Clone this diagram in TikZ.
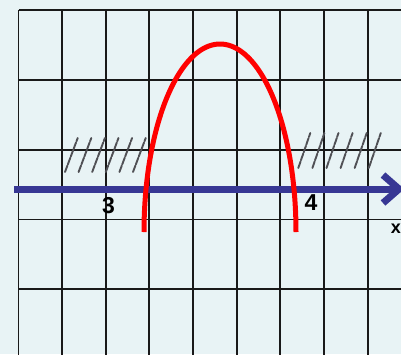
\documentclass[tikz,border=0pt]{standalone}
\usepackage{fontspec}
\setmainfont{Liberation Sans}
\definecolor{bgc}{HTML}{E8F3F5}
\definecolor{axisblue}{RGB}{55,55,148}
\definecolor{hatchgray}{RGB}{80,80,85}
\tikzset{
  gridline/.style={line width=1.7pt, black!90},
  hatchline/.style={line width=1.9pt, hatchgray, line cap=round, dash pattern=on 7pt off 1.2pt},
  axisline/.style={line width=7pt, axisblue},
  curveline/.style={line width=5pt, red},
  numlabel/.style={font=\fontsize{23}{23}\selectfont\bfseries, inner sep=0pt}
}
\begin{document}
\begin{tikzpicture}[x=1pt,y=-1pt]
\useasboundingbox (0,0) rectangle (401,354);
\fill[bgc] (0,0) rectangle (401,354);
\clip (0,0) rectangle (401,354);
% grid
\foreach \gx in {18.5,62,105.7,149.3,193,236.7,280.3,323.8,367.7} {
  \draw[gridline] (\gx,10) -- (\gx,360);
}
\foreach \gy in {10,80,150,219.5,289} {
  \draw[gridline] (18.5,\gy) -- (405,\gy);
}
% hatches
\foreach \i in {0,...,5} {
  \draw[hatchline] ({65+13.6*\i},172) -- ({77.7+13.6*\i},138);
  \draw[hatchline] ({298.3+14.1*\i},168) -- ({310.3+14.1*\i},133);
}
% axis
\coordinate (axs) at (14,189);
\coordinate (axe) at (399,189);
\draw[axisline] (axs) -- (axe);
\draw[axisline, miter limit=10] (383,175) -- (axe) -- (383,203);
% parabola-like curve
\draw[curveline] plot[domain=180:360, samples=120] ({220+76*cos(\x)}, {232+188*sin(\x)});
% labels
\node[numlabel] (three) at (108.5,205.5) {3};
\node[numlabel] (four) at (311,203) {4};
\node[numlabel, anchor=east, font=\fontsize{18}{18}\selectfont\bfseries] (xlab) at (401,229) {x};
\end{tikzpicture}
\end{document}
